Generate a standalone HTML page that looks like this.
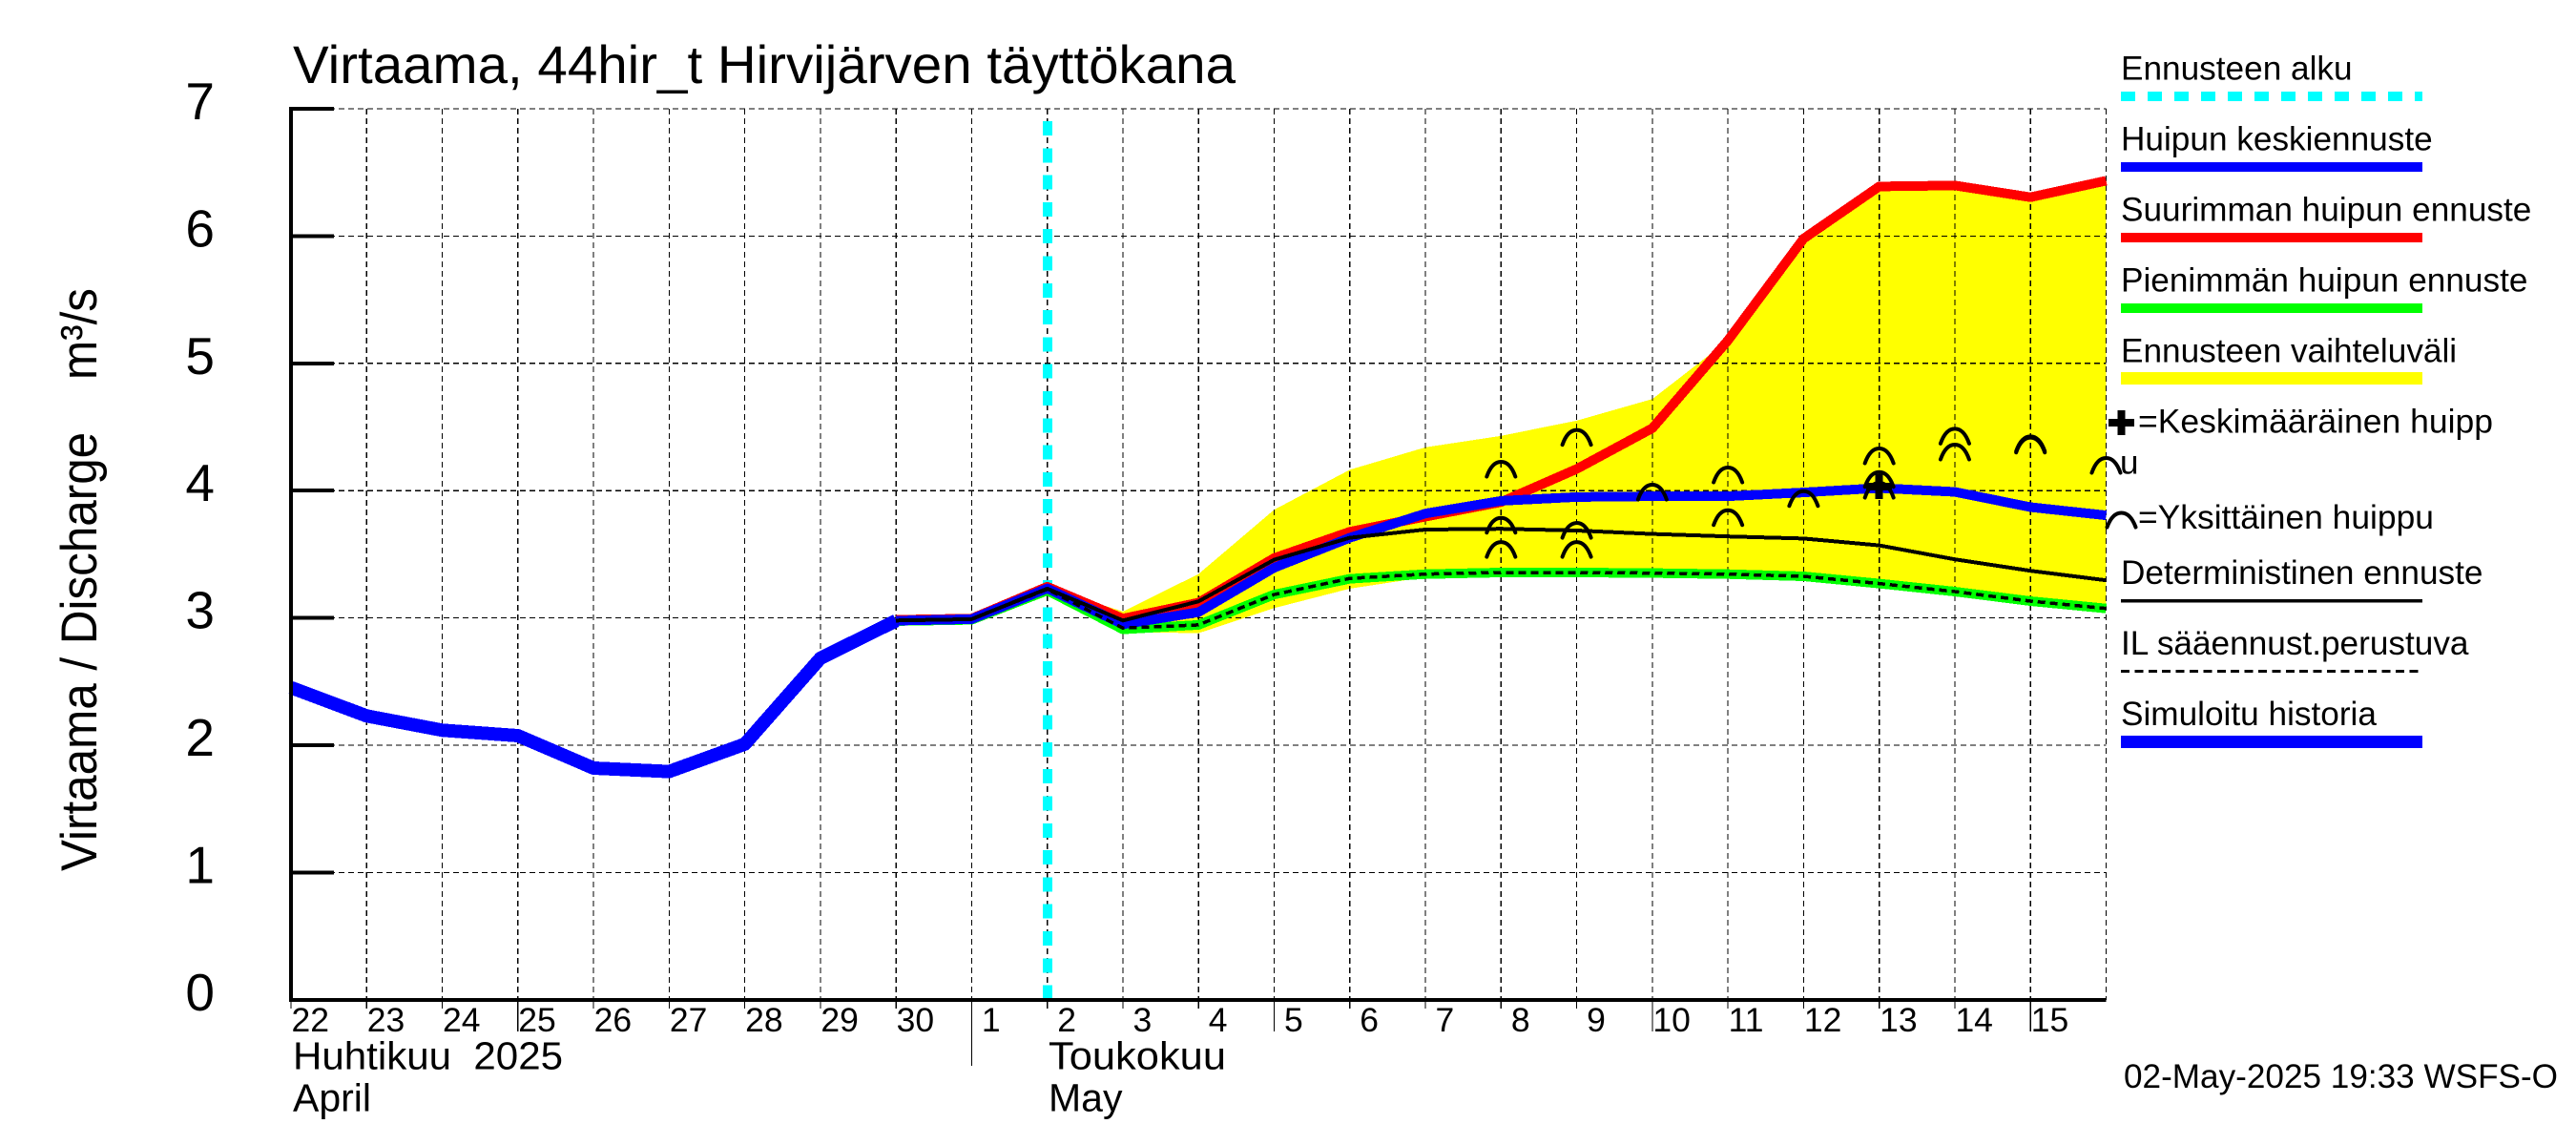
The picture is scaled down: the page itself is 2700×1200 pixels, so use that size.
<!DOCTYPE html>
<html lang="fi">
<head>
<meta charset="utf-8">
<title>Virtaama, 44hir_t Hirvijärven täyttökana</title>
<style>
  html, body { margin: 0; padding: 0; background: #fff; }
  body { width: 2700px; height: 1200px; overflow: hidden; }
  svg { display: block; }
  text { font-family: "Liberation Sans", sans-serif; fill: #000; white-space: pre; }
  .marks { shape-rendering: crispEdges; }
</style>
</head>
<body>
<svg id="chart" xmlns="http://www.w3.org/2000/svg" width="2700" height="1200" viewBox="0 0 2700 1200">
  <rect x="0" y="0" width="2700" height="1200" fill="#ffffff"/>
  <g id="plot"></g>
  <g id="axis-labels"></g>

  <text x="307" y="87" font-size="56" textLength="988" lengthAdjust="spacingAndGlyphs">Virtaama, 44hir_t Hirvijärven täyttökana</text>
  <text transform="translate(101,913) rotate(-90)" font-size="53" textLength="611" lengthAdjust="spacingAndGlyphs">Virtaama / Discharge    m³/s</text>

  <text x="307" y="1120.5" font-size="41" textLength="283" lengthAdjust="spacingAndGlyphs">Huhtikuu  2025</text>
  <text x="307" y="1164.5" font-size="41">April</text>
  <text x="1099" y="1120.5" font-size="41" textLength="186" lengthAdjust="spacingAndGlyphs">Toukokuu</text>
  <text x="1099" y="1164.5" font-size="41">May</text>
  <text x="2226" y="1140" font-size="35" textLength="455" lengthAdjust="spacingAndGlyphs">02-May-2025 19:33 WSFS-O</text>

  <g>
    <g>
      <text x="2223" y="83.3" font-size="35.2">Ennusteen alku</text>
      <line class="marks" x1="2223" x2="2539" y1="101" y2="101" stroke="#00ffff" stroke-width="10" stroke-dasharray="15 13"/>
    </g>
    <g>
      <text x="2223" y="157.3" font-size="35.2">Huipun keskiennuste</text>
      <rect class="marks" x="2223" y="170" width="316" height="10" fill="#0000ff"/>
    </g>
    <g>
      <text x="2223" y="231.3" font-size="35.2">Suurimman huipun ennuste</text>
      <rect class="marks" x="2223" y="244" width="316" height="10" fill="#ff0000"/>
    </g>
    <g>
      <text x="2223" y="305.3" font-size="35.2">Pienimmän huipun ennuste</text>
      <rect class="marks" x="2223" y="318" width="316" height="10" fill="#00ff00"/>
    </g>
    <g>
      <text x="2223" y="379.3" font-size="35.2">Ennusteen vaihteluväli</text>
      <rect class="marks" x="2223" y="390" width="316" height="13" fill="#ffff00"/>
    </g>
    <g>
      <path class="marks" d="M2223.5 430V456M2210 443H2237" stroke="#000" stroke-width="8" fill="none"/>
      <text x="2241" y="453.3" font-size="35" textLength="372" lengthAdjust="spacingAndGlyphs">=Keskimääräinen huipp</text>
      <text x="2222" y="496.7" font-size="35">u</text>
    </g>
    <g>
      <path d="M2208.5 552.5C2212 543 2217 537.5 2223.5 537.5C2230 537.5 2235 543 2238.5 552.5" stroke="#000" stroke-width="4" fill="none" stroke-linecap="round"/>
      <text x="2241" y="554" font-size="35" textLength="310" lengthAdjust="spacingAndGlyphs">=Yksittäinen huippu</text>
    </g>
    <g>
      <text x="2223" y="612" font-size="35.2">Deterministinen ennuste</text>
      <rect class="marks" x="2223" y="628" width="316" height="3.5" fill="#000"/>
    </g>
    <g>
      <text x="2223" y="686" font-size="35.2">IL sääennust.perustuva</text>
      <line class="marks" x1="2223" x2="2539" y1="703.3" y2="703.3" stroke="#000" stroke-width="3" stroke-dasharray="9 5.4"/>
    </g>
    <g>
      <text x="2223" y="760" font-size="35.2">Simuloitu historia</text>
      <rect class="marks" x="2223" y="771" width="316" height="13" fill="#0000ff"/>
    </g>
  </g>
</svg>

<script>
// ---- chart data ----
const dayLabels = ['22','23','24','25','26','27','28','29','30','1','2','3','4','5','6','7','8','9','10','11','12','13','14','15'];
const yTickLabels = [0, 1, 2, 3, 4, 5, 6, 7];
const longTickDays = ['25', '5', '10', '15'];
const monthBoundaryDay = '1';
const forecastStartDay = 10;

const historyValues = [2.453, 2.23, 2.118, 2.075, 1.82, 1.793, 2.008, 2.683, 2.978];

const forecastFirstDay = 8;
const meanPeakValues = [2.978, 2.99, 3.232, 2.95, 3.045, 3.394, 3.63, 3.82, 3.92, 3.95, 3.956, 3.956, 3.986, 4.02, 3.99, 3.87, 3.806];
const maxPeakValues = [2.985, 2.995, 3.245, 2.995, 3.12, 3.47, 3.677, 3.795, 3.91, 4.17, 4.49, 5.18, 5.98, 6.39, 6.397, 6.305, 6.435];
const minPeakValues = [2.975, 2.985, 3.215, 2.91, 2.945, 3.184, 3.307, 3.344, 3.357, 3.357, 3.352, 3.344, 3.327, 3.27, 3.207, 3.132, 3.074];
const deterministicValues = [2.98, 2.99, 3.23, 2.98, 3.13, 3.457, 3.63, 3.694, 3.70, 3.687, 3.66, 3.64, 3.624, 3.57, 3.46, 3.37, 3.295];
const weatherBasedValues = [2.98, 2.99, 3.225, 2.92, 2.945, 3.184, 3.31, 3.344, 3.357, 3.357, 3.352, 3.344, 3.327, 3.27, 3.207, 3.132, 3.074];

const rangeFirstDay = 10;
const rangeUpperValues = [3.24, 3.05, 3.345, 3.85, 4.164, 4.34, 4.43, 4.55, 4.72, 5.18, 5.98, 6.39, 6.397, 6.305, 6.435];
const rangeLowerValues = [3.21, 2.89, 2.88, 3.077, 3.23, 3.32, 3.357, 3.357, 3.352, 3.344, 3.327, 3.27, 3.207, 3.132, 3.074];

const singlePeakDays = [16, 16, 16, 17, 17, 17, 18, 19, 19, 20, 21, 21, 21, 22, 22, 23, 23, 24];
const singlePeakValues = [4.17, 3.73, 3.54, 4.42, 3.69, 3.54, 3.99, 4.125, 3.79, 3.94, 4.275, 4.09, 4.005, 4.43, 4.305, 4.37, 4.36, 4.2];
const averagePeakDay = 21;
const averagePeakValue = 4.03;

// ---- axis functions ----
const xLeft = 305, dayWidth = 79.27, yZero = 1047.8, unitHeight = 133.4;
const xOf = d => xLeft + dayWidth * d;
const yOf = v => yZero - unitHeight * v;
const xRight = xOf(dayLabels.length);
const yTop = yOf(yTickLabels[yTickLabels.length - 1]);

const NS = 'http://www.w3.org/2000/svg';
const plot = document.getElementById('plot');
const labels = document.getElementById('axis-labels');

function svgEl(tag, parent, attrs) {
  const el = document.createElementNS(NS, tag);
  for (const k in attrs) el.setAttribute(k, attrs[k]);
  parent.appendChild(el);
  return el;
}
function pointsOf(values, firstDay) {
  return values.map((v, i) => xOf(firstDay + i).toFixed(1) + ',' + yOf(v).toFixed(1));
}

// forecast range band
const band = svgEl('polygon', plot, {
  points: pointsOf(rangeUpperValues, rangeFirstDay).concat(pointsOf(rangeLowerValues, rangeFirstDay).reverse()).join(' '),
  fill: '#ffff00', class: 'marks'
});



// grid
yTickLabels.forEach(v => {
  const g = svgEl('line', plot, { x1: xLeft, x2: xRight, y1: yOf(v), y2: yOf(v), stroke: '#000', 'stroke-width': 1.2, 'stroke-dasharray': '6 4', class: 'marks' });
  
  
});
for (let d = 1; d <= dayLabels.length; d++) {
  const g = svgEl('line', plot, { x1: xOf(d), x2: xOf(d), y1: yTop, y2: yZero, stroke: '#000', 'stroke-width': 1.2, 'stroke-dasharray': '6 4', class: 'marks' });
  
  
}

// forecast-start marker
const startLine = svgEl('line', plot, { x1: xOf(forecastStartDay) + 0.5, x2: xOf(forecastStartDay) + 0.5, y1: 127, y2: yZero, stroke: '#00ffff', 'stroke-width': 10, 'stroke-dasharray': '15 13.3', class: 'marks' });



// series
function addLine(values, firstDay, color, width, extra) {
  return svgEl('polyline', plot, Object.assign({
    points: pointsOf(values, firstDay).join(' '),
    fill: 'none', stroke: color, 'stroke-width': width, 'stroke-linejoin': 'round', class: 'marks'
  }, extra || {}));
}
const minLine = addLine(minPeakValues, forecastFirstDay, '#00ff00', 10);



const maxLine = addLine(maxPeakValues, forecastFirstDay, '#ff0000', 10);



const meanLine = addLine(meanPeakValues, forecastFirstDay, '#0000ff', 10);



const historyLine = addLine(historyValues, 0, '#0000ff', 14);



const detLine = addLine(deterministicValues, forecastFirstDay, '#000000', 4);



const ilLine = addLine(weatherBasedValues, forecastFirstDay, '#000000', 3.5, { 'stroke-dasharray': '8 5' });



// single peak symbols
singlePeakDays.forEach((d, i) => {
  const cx = xOf(d), cy = yOf(singlePeakValues[i]);
  const arch = svgEl('path', plot, {
    d: 'M' + (cx - 15) + ' ' + (cy + 8) + 'C' + (cx - 11.5) + ' ' + (cy - 2) + ' ' + (cx - 6.5) + ' ' + (cy - 7.5) + ' ' + cx + ' ' + (cy - 7.5) +
       'C' + (cx + 6.5) + ' ' + (cy - 7.5) + ' ' + (cx + 11.5) + ' ' + (cy - 2) + ' ' + (cx + 15) + ' ' + (cy + 8),
    fill: 'none', stroke: '#000', 'stroke-width': 4, 'stroke-linecap': 'round'
  });
  
  
});

// average peak cross
const avgX = xOf(averagePeakDay), avgY = yOf(averagePeakValue);
const avgCross = svgEl('path', plot, {
  d: 'M' + avgX + ' ' + (avgY - 13) + 'V' + (avgY + 13) + 'M' + (avgX - 13.5) + ' ' + avgY + 'H' + (avgX + 13.5),
  stroke: '#000', 'stroke-width': 8, fill: 'none', class: 'marks'
});



// axes
const yAxis = svgEl('line', plot, { x1: xLeft, x2: xLeft, y1: yTop - 2, y2: yZero + 2, stroke: '#000', 'stroke-width': 4, class: 'marks' });



const xAxis = svgEl('line', plot, { x1: xLeft - 2, x2: xRight, y1: yZero, y2: yZero, stroke: '#000', 'stroke-width': 4, class: 'marks' });



// y ticks
yTickLabels.forEach(v => {
  const t = svgEl('line', plot, { x1: xLeft, x2: xLeft + 45, y1: yOf(v), y2: yOf(v), stroke: '#000', 'stroke-width': 4, class: 'marks' });
  
  

  const lab = svgEl('text', labels, { x: 225, y: yOf(v) + 11, 'font-size': 55, 'text-anchor': 'end' });
  
  
  lab.textContent = String(v);
});

// x ticks
dayLabels.forEach((label, d) => {
  let bottom = yZero + 9;
  if (longTickDays.includes(label)) bottom = yZero + 33;
  if (label === monthBoundaryDay) bottom = yZero + 69;
  const t = svgEl('line', plot, { x1: xOf(d), x2: xOf(d), y1: yZero, y2: bottom, stroke: '#000', 'stroke-width': 1.2, class: 'marks' });
  
  

  const lab = svgEl('text', labels, { x: xOf(d) + (label.length === 1 ? 10.5 : 0.5), y: 1081, 'font-size': 35.5 });
  
  
  lab.textContent = label;
});
</script>
</body>
</html>
